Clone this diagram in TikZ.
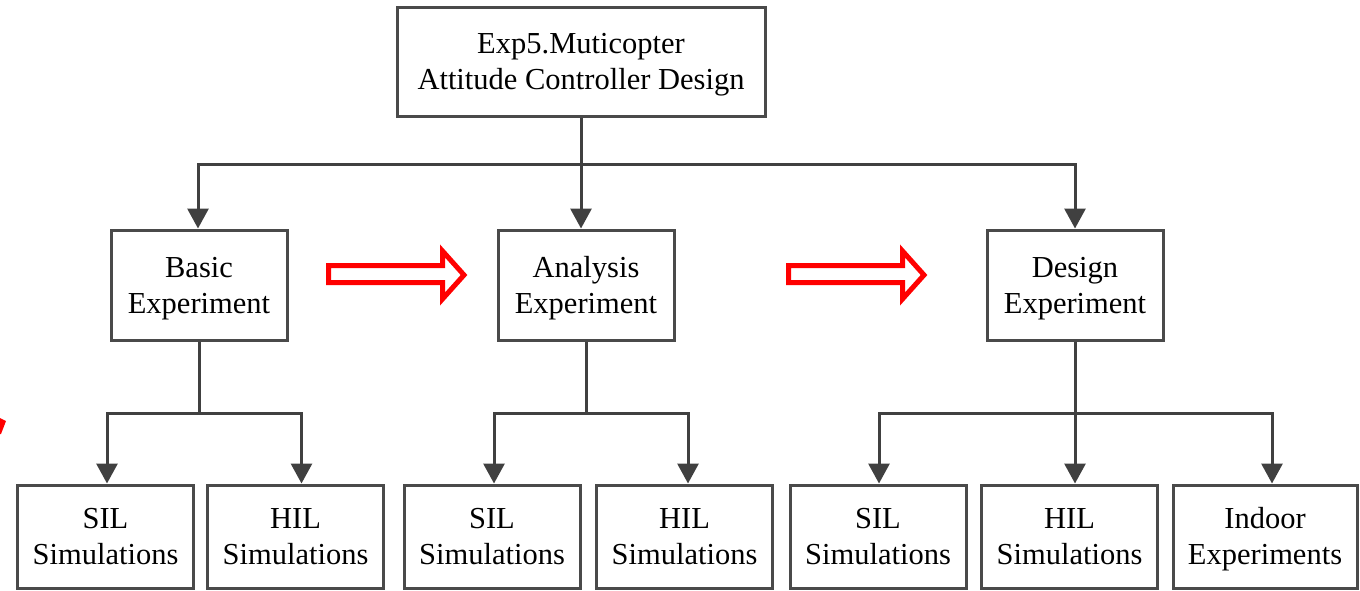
\documentclass[tikz,border=0pt]{standalone}
\usepackage{fontspec}
\setmainfont{Liberation Serif}
\usetikzlibrary{arrows.meta}
\definecolor{linegray}{HTML}{404040}
\definecolor{boxgray}{HTML}{4A4A4A}
% invisible line strut: 28pt above and 8pt below the baseline
\newcommand\ls{\rule[-8pt]{0pt}{36pt}}
\begin{document}
\begin{tikzpicture}[x=1pt,y=1pt,
  box/.style={draw=boxgray, line width=3pt, fill=white, rectangle, align=center,
    minimum width=176pt, minimum height=110pt, inner sep=0pt,
    font=\fontsize{30.5}{36}\selectfont},
  leafbox/.style={box, minimum height=103pt},
  link/.style={draw=linegray, line width=3pt},
  arrowlink/.style={link, -{Triangle[width=21pt,length=20pt]}},
  hollowarrow/.style={draw=red, line width=5pt, fill=white, line join=miter}
]
\useasboundingbox (0,0) rectangle (1360,-590);

% root
\node[box, minimum width=368pt, minimum height=109pt] (root) at (581,-61.5)
  {Exp5.Muticopter\ls\\Attitude Controller Design\ls};

% experiment stages
\node[box] (basic)    at (199,-285)  {Basic\ls\\Experiment\ls};
\node[box] (analysis) at (586,-285)  {Analysis\ls\\Experiment\ls};
\node[box] (design)   at (1075,-285) {Design\ls\\Experiment\ls};

% simulations and experiments
\node[leafbox] (sil1)   at (105.5,-536.5) {SIL\ls\\Simulations\ls};
\node[leafbox] (hil1)   at (295.5,-536.5) {HIL\ls\\Simulations\ls};
\node[leafbox] (sil2)   at (492,-536.5)   {SIL\ls\\Simulations\ls};
\node[leafbox] (hil2)   at (684.5,-536.5) {HIL\ls\\Simulations\ls};
\node[leafbox] (sil3)   at (878,-536.5)   {SIL\ls\\Simulations\ls};
\node[leafbox] (hil3)   at (1069.5,-536.5){HIL\ls\\Simulations\ls};
\node[leafbox, minimum width=184pt] (indoor) at (1265,-536.5) {Indoor\ls\\Experiments\ls};

% root to stages
\coordinate (rootbar) at ([yshift=-47pt]root.south);
\draw[link] (root.south) -- (rootbar);
\draw[arrowlink] (rootbar) -| ([xshift=-1pt]basic.north);
\draw[arrowlink] (rootbar) -| (design.north);
\draw[arrowlink] (rootbar) -- (rootbar |- analysis.north);

% basic branch
\coordinate (bbar) at ([yshift=-72pt]basic.south);
\draw[link] (basic.south) -- (bbar);
\draw[arrowlink] (bbar) -| ([xshift=1.5pt]sil1.north);
\draw[arrowlink] (bbar) -| ([xshift=6pt]hil1.north);

% analysis branch
\coordinate (abar) at ([yshift=-72pt]analysis.south);
\draw[link] (analysis.south) -- (abar);
\draw[arrowlink] (abar) -| ([xshift=2pt]sil2.north);
\draw[arrowlink] (abar) -| ([xshift=3.5pt]hil2.north);

% design branch
\coordinate (dbar) at ([yshift=-72pt]design.south);
\draw[link] (design.south) -- (dbar);
\draw[arrowlink] (dbar) -| ([xshift=1pt]sil3.north);
\draw[arrowlink] (dbar) -- (dbar |- hil3.north);
\draw[arrowlink] (dbar) -| ([xshift=7pt]indoor.north);

% progression arrows between stages
\draw[hollowarrow] (328.5,-265.5) -- (442.5,-265.5) -- (442.5,-251) -- (464,-275)
  -- (442.5,-299) -- (442.5,-282.5) -- (328.5,-282.5) -- cycle;
\draw[hollowarrow] (788.5,-265.5) -- (902.5,-265.5) -- (902.5,-251) -- (924,-275)
  -- (902.5,-299) -- (902.5,-282.5) -- (788.5,-282.5) -- cycle;

% partial red mark at the left edge
\fill[red] (0,-418) -- (6,-421) -- (1,-434) -- (0,-434) -- cycle;
\end{tikzpicture}
\end{document}
